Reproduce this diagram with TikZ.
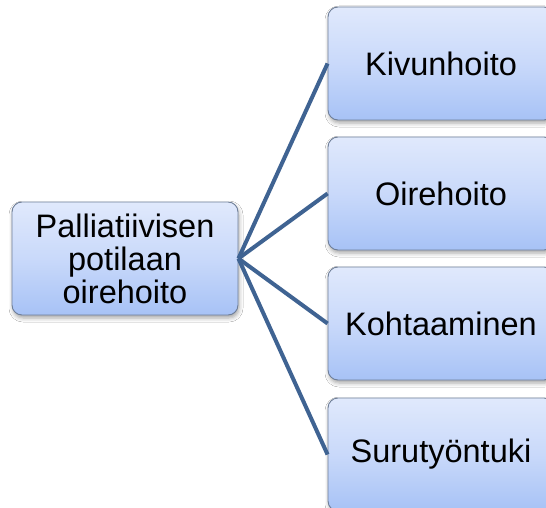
\documentclass[tikz,border=0pt]{standalone}
\usepackage{fontspec}
\setmainfont{Liberation Sans}
\usetikzlibrary{shadows.blur}
\definecolor{boxtop}{HTML}{E0E9FC}
\definecolor{boxmid}{HTML}{C9D9FA}
\definecolor{boxbot}{HTML}{A7C2F6}
\definecolor{boxline}{HTML}{6E7E98}
\definecolor{linkcol}{HTML}{3F6392}
\tikzset{
  boxnode/.style={draw=boxline, line width=0.9pt, rounded corners=10pt,
    minimum width=226pt, minimum height=113pt, inner sep=0pt,
    top color=boxtop, bottom color=boxbot, middle color=boxmid,
    blur shadow={shadow xshift=1pt, shadow yshift=-3pt, shadow blur radius=4pt, shadow opacity=35},
    font=\fontsize{32.5}{33}\selectfont, align=center, text=black},
  link/.style={draw=linkcol, line width=4pt}
}
\begin{document}
\begin{tikzpicture}[x=1pt,y=-1pt]
\useasboundingbox (0,0) rectangle (546,508);
\clip (0,0) rectangle (546,508);
\fill[white] (0,0) rectangle (546,508);
\node[boxnode] (root) at (125,258.5) {Palliatiivisen\\potilaan\\oirehoito};
\node[boxnode] (a) at (441,63.5) {Kivunhoito};
\node[boxnode] (b) at (441,193.5) {Oirehoito};
\node[boxnode] (c) at (441,323.5) {Kohtaaminen};
\node[boxnode] (d) at (441,454.5) {Surutyöntuki};
\foreach \n in {a,b,c,d}{
  \draw[link] (root.east) -- (\n.west);
}
\end{tikzpicture}
\end{document}
